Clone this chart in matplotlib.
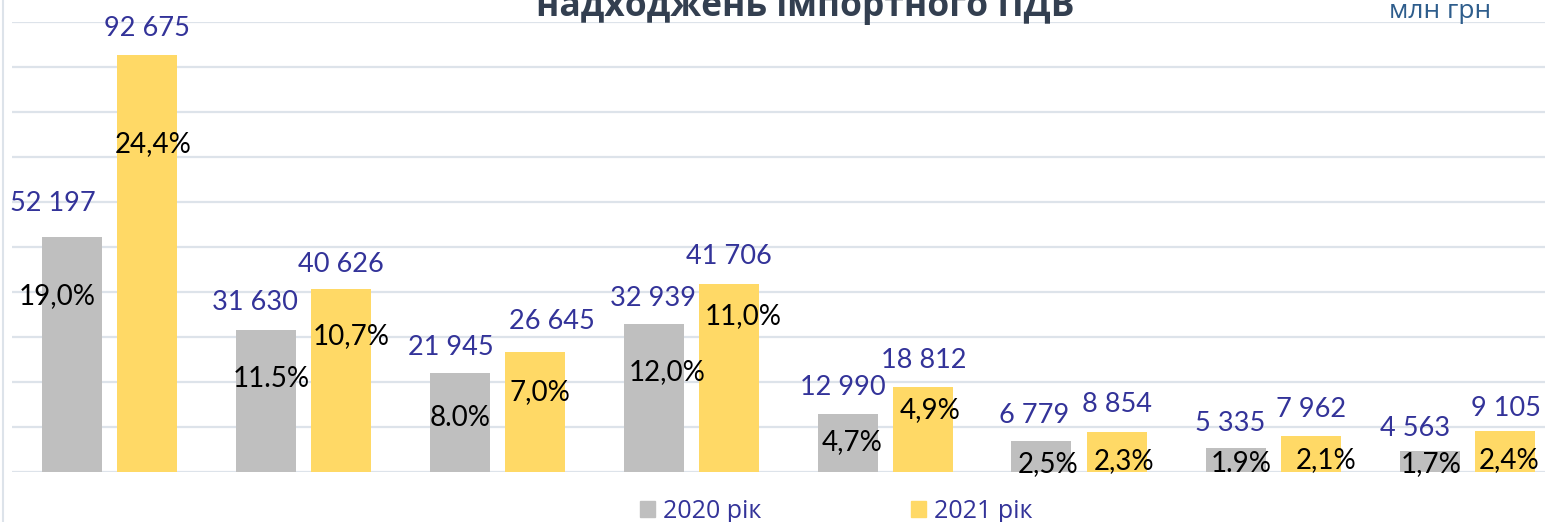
import matplotlib
matplotlib.use('Agg')
import matplotlib.pyplot as plt
from matplotlib.patches import Patch
from matplotlib.lines import Line2D
import numpy as np

# values, млн грн
vals_2020 = [52197, 31630, 21945, 32939, 12990, 6779, 5335, 4563]
vals_2021 = [92675, 40626, 26645, 41706, 18812, 8854, 7962, 9105]
# shares as printed on the chart
pct_2020 = ['19,0%', '11.5%', '8.0%', '12,0%', '4,7%', '2,5%', '1.9%', '1,7%']
pct_2021 = ['24,4%', '10,7%', '7,0%', '11,0%', '4,9%', '2,3%', '2,1%', '2,4%']
series_names = ['2020 рік', '2021 рік']
title_text = 'надходжень імпортного ПДВ'
unit_text = 'млн грн'

# hand placed label offsets (pixels), like in the original excel chart
val_dx_2020 = [-18.5, -11, -9, -1, -5, -7, -5, -14]
val_dy_2020 = [36, 29.5, 28, 28, 29, 28, 27, 25]
val_dx_2021 = [0, 0, 17, 0, 1, 1, 1, 1]
val_dy_2021 = [28.5, 27.5, 33, 30, 29, 30, 29, 25]
pct_dx_2020 = [-14.5, 6, 1, 14, 5, 7, 6, 2]
pct_dy_2020 = [56.5, 47, 43, 46, 27, 21, 14, 11]
pct_dx_2021 = [6.5, 10.5, 5, 15, 8, 8, 16, 5]
pct_dy_2021 = [87, 45, 38, 30, 21, 27, 22, 27]

GRAY = '#BFBFBF'
YELLOW = '#FFD966'
LBL_BLUE = '#333399'
GRID = '#DDE3EA'

W, H = 1545, 522
fig = plt.figure(figsize=(W / 100, H / 100), dpi=100)
ax = fig.add_axes([12 / W, 50 / H, 1552 / W, 450 / H])

x = np.arange(len(vals_2020))
bw = 60 / 194
off = 37.5 / 194
ax.bar(x - off, vals_2020, bw, color=GRAY, zorder=3)
ax.bar(x + off, vals_2021, bw, color=YELLOW, zorder=3)

ax.set_xlim(-0.5, len(x) - 0.5)
ax.set_ylim(0, 100000)
ax.set_yticks(np.arange(0, 100001, 10000))
ax.grid(axis='y', color=GRID, linewidth=1.6, zorder=0)
ax.set_xticks([])
ax.tick_params(left=False, labelleft=False)
for s in ax.spines.values():
    s.set_visible(False)

num_font = ['Lato', 'DejaVu Sans']
cyr_font = ['Open Sans', 'DejaVu Sans']

def put_labels(xs, vals, pcts, vdx, vdy, pdx, pdy):
    for i in range(len(vals)):
        v = vals[i]
        ax.annotate(f'{v:,}'.replace(',', '\u00a0'), (xs[i], v),
                    xytext=(vdx[i], vdy[i] - 10), textcoords='offset pixels',
                    ha='center', va='baseline', fontsize=19.5,
                    color=LBL_BLUE, family=num_font, zorder=5)
        ax.annotate(pcts[i], (xs[i], v),
                    xytext=(pdx[i], -pdy[i] - 10), textcoords='offset pixels',
                    ha='center', va='baseline', fontsize=20,
                    color='black', family=num_font, zorder=5)

put_labels(x - off, vals_2020, pct_2020, val_dx_2020, val_dy_2020, pct_dx_2020, pct_dy_2020)
put_labels(x + off, vals_2021, pct_2021, val_dx_2021, val_dy_2021, pct_dx_2021, pct_dy_2021)

# title (its upper part is cut off in the source picture) and unit
fig.text(805 / W, 1 - 16 / H, title_text, ha='center', va='baseline',
         fontsize=25.5, fontweight='bold', color='#333F50', family=cyr_font)
fig.text(1440 / W, 1 - 18 / H, unit_text, ha='center', va='baseline',
         fontsize=19, color='#2E5D8C', family=cyr_font)

# thin frame line on the left
fig.add_artist(Line2D([2.5 / W, 2.5 / W], [0, 1], color=GRID, linewidth=1.5))

handles = [Patch(color=GRAY), Patch(color=YELLOW)]
fig.legend(handles, series_names, loc='center', bbox_to_anchor=(836 / W, 11 / H),
           ncol=2, frameon=False, handlelength=0.62, handleheight=0.62,
           handletextpad=0.3, columnspacing=6.0, borderpad=0,
           prop={'family': cyr_font, 'size': 18}, labelcolor=LBL_BLUE)

fig.savefig('out.png', dpi=100)
